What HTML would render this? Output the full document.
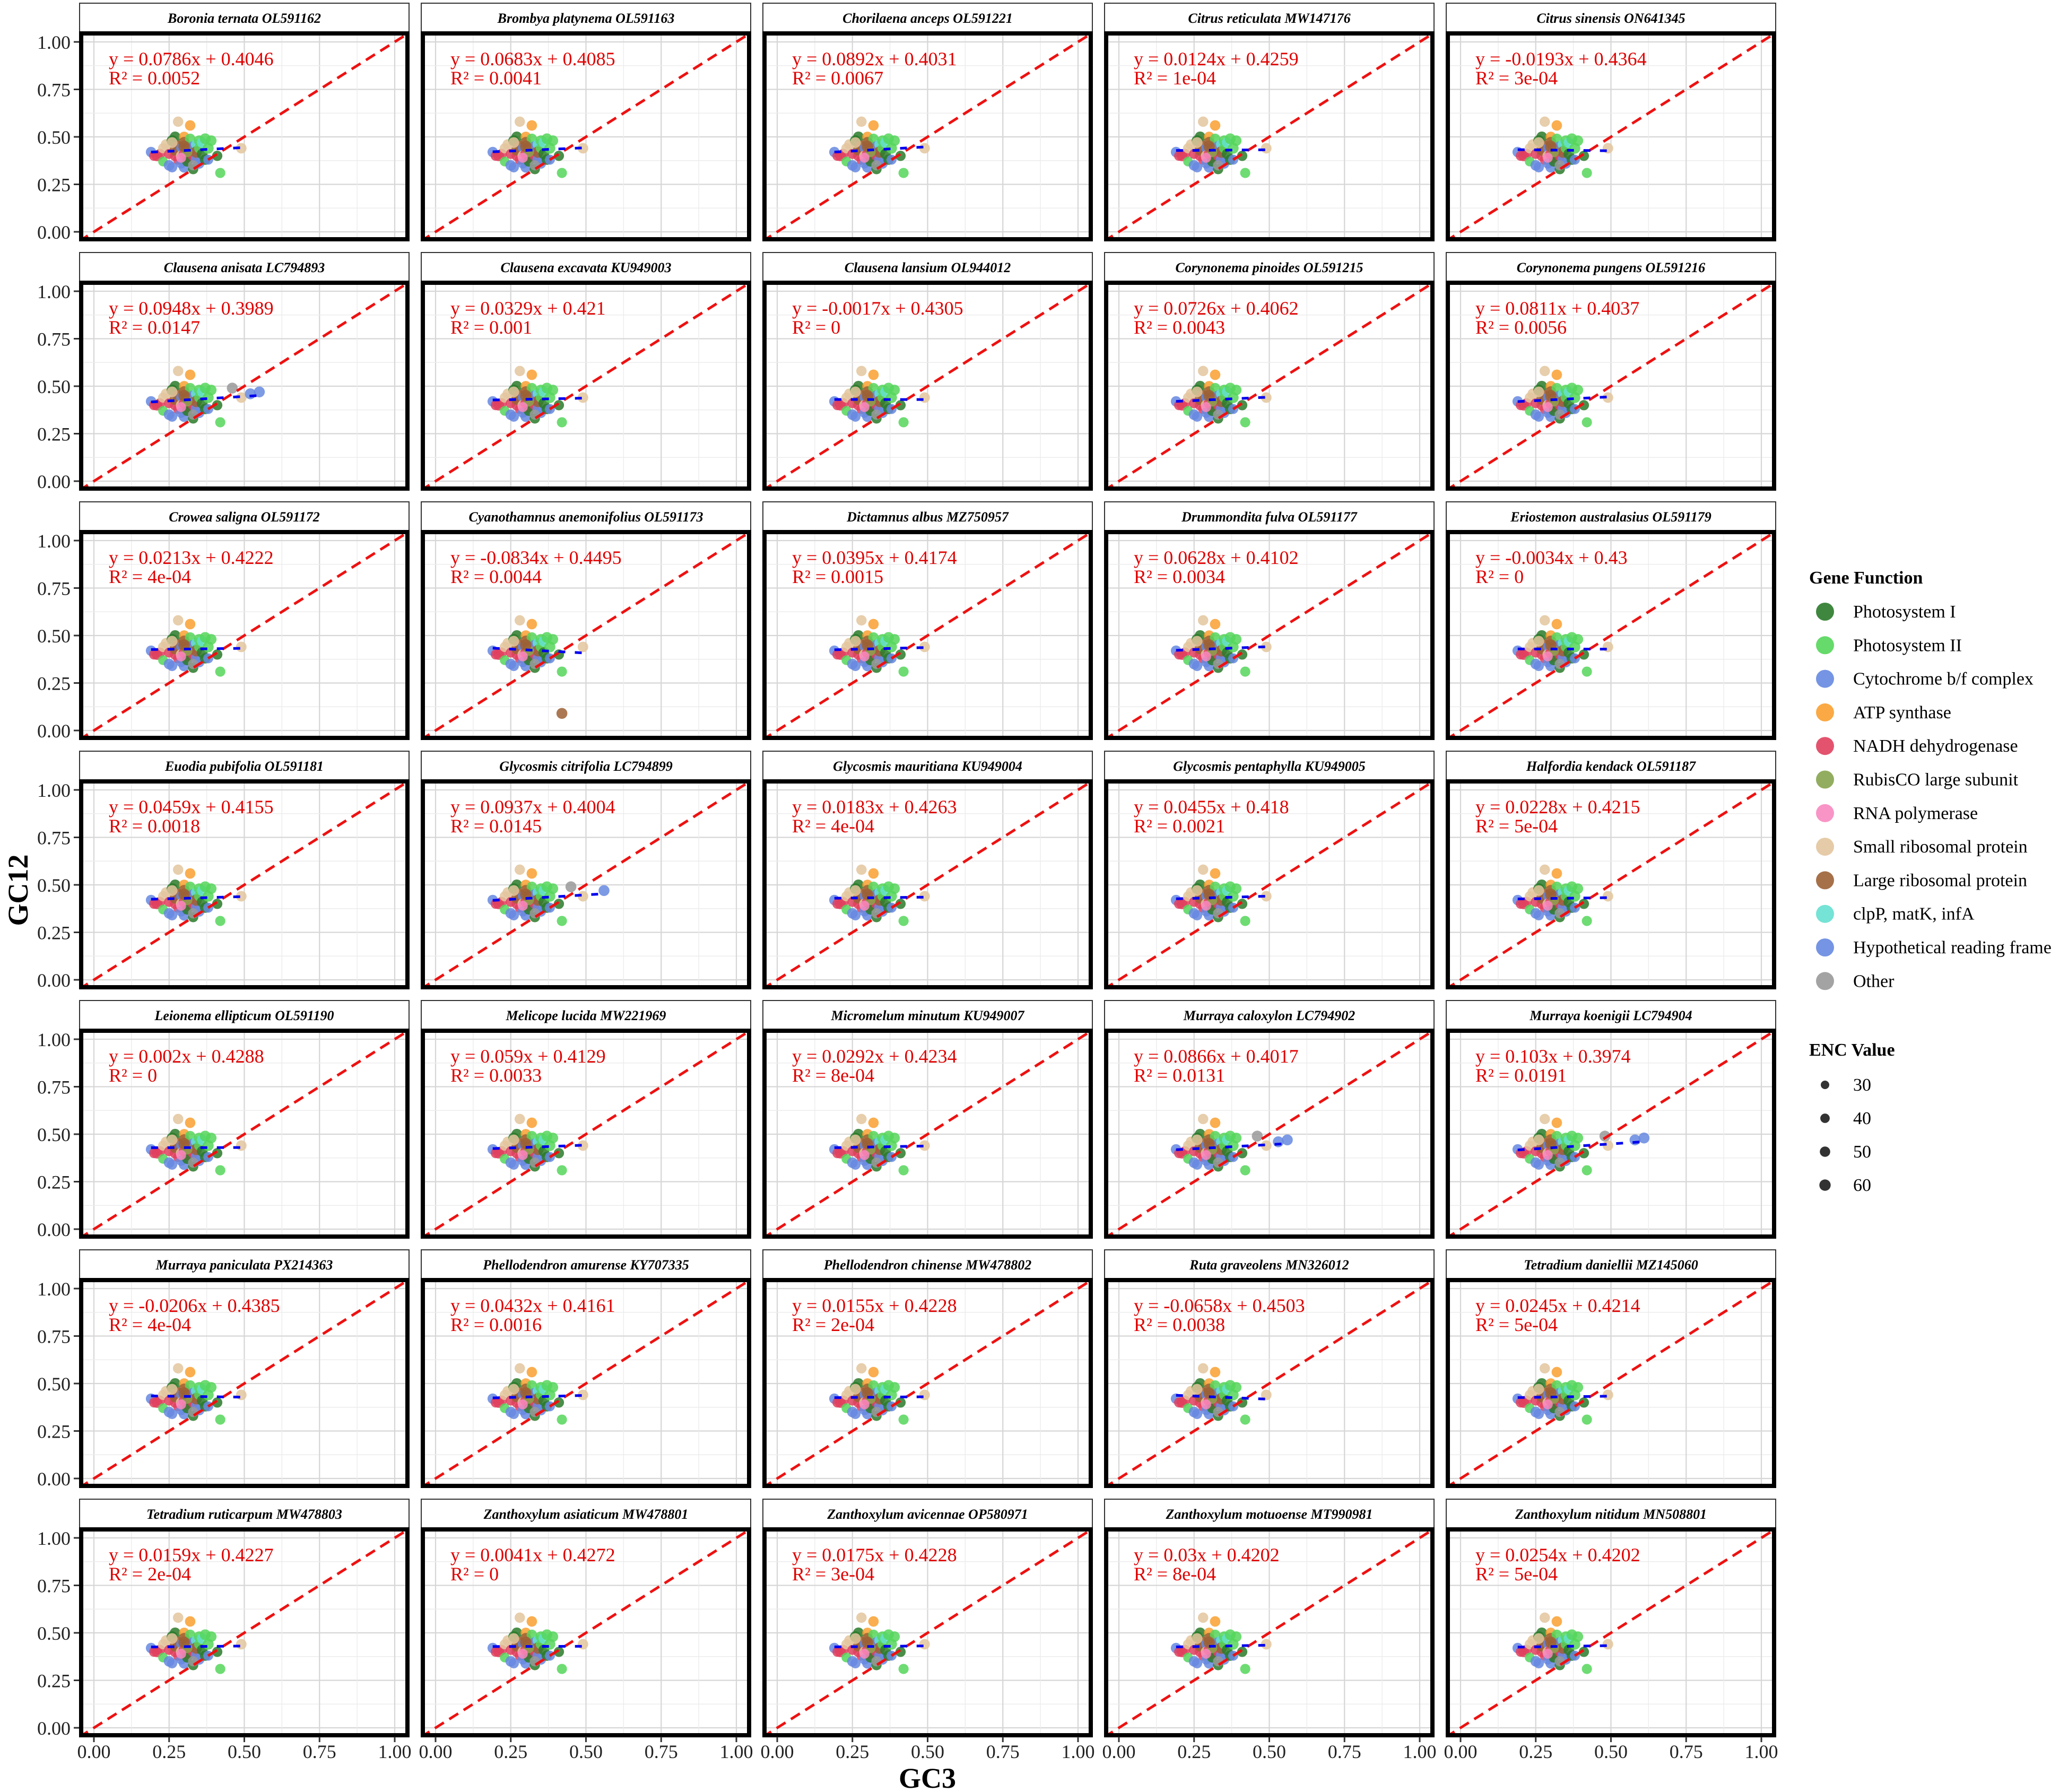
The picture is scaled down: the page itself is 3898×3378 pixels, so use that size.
<!DOCTYPE html>
<html><head><meta charset="utf-8">
<style>
html,body{margin:0;padding:0;background:#fff;}
svg{display:block;font-family:"Liberation Serif",serif;}
</style></head>
<body>
<svg id="chart" width="3898" height="3378" viewBox="0 0 3898 3378" xmlns="http://www.w3.org/2000/svg">
<rect x="0" y="0" width="3898" height="3378" fill="#fff"/>
<g id="panels"></g>
<text x="1748" y="3370" font-size="54" font-weight="bold" text-anchor="middle">GC3</text>
<text x="0" y="0" font-size="54" font-weight="bold" text-anchor="middle" transform="translate(52,1678) rotate(-90)">GC12</text>
<g id="legend"></g>
</svg>
<script>
const titles = ["Boronia ternata OL591162","Brombya platynema OL591163","Chorilaena anceps OL591221","Citrus reticulata MW147176","Citrus sinensis ON641345",
"Clausena anisata LC794893","Clausena excavata KU949003","Clausena lansium OL944012","Corynonema pinoides OL591215","Corynonema pungens OL591216",
"Crowea saligna OL591172","Cyanothamnus anemonifolius OL591173","Dictamnus albus MZ750957","Drummondita fulva OL591177","Eriostemon australasius OL591179",
"Euodia pubifolia OL591181","Glycosmis citrifolia LC794899","Glycosmis mauritiana KU949004","Glycosmis pentaphylla KU949005","Halfordia kendack OL591187",
"Leionema ellipticum OL591190","Melicope lucida MW221969","Micromelum minutum KU949007","Murraya caloxylon LC794902","Murraya koenigii LC794904",
"Murraya paniculata PX214363","Phellodendron amurense KY707335","Phellodendron chinense MW478802","Ruta graveolens MN326012","Tetradium daniellii MZ145060",
"Tetradium ruticarpum MW478803","Zanthoxylum asiaticum MW478801","Zanthoxylum avicennae OP580971","Zanthoxylum motuoense MT990981","Zanthoxylum nitidum MN508801"];
const slopes = ["0.0786","0.0683","0.0892","0.0124","-0.0193","0.0948","0.0329","-0.0017","0.0726","0.0811","0.0213","-0.0834","0.0395","0.0628","-0.0034","0.0459","0.0937","0.0183","0.0455","0.0228","0.002","0.059","0.0292","0.0866","0.103","-0.0206","0.0432","0.0155","-0.0658","0.0245","0.0159","0.0041","0.0175","0.03","0.0254"];
const intercepts = ["0.4046","0.4085","0.4031","0.4259","0.4364","0.3989","0.421","0.4305","0.4062","0.4037","0.4222","0.4495","0.4174","0.4102","0.43","0.4155","0.4004","0.4263","0.418","0.4215","0.4288","0.4129","0.4234","0.4017","0.3974","0.4385","0.4161","0.4228","0.4503","0.4214","0.4227","0.4272","0.4228","0.4202","0.4202"];
const r2s = ["0.0052","0.0041","0.0067","1e-04","3e-04","0.0147","0.001","0","0.0043","0.0056","4e-04","0.0044","0.0015","0.0034","0","0.0018","0.0145","4e-04","0.0021","5e-04","0","0.0033","8e-04","0.0131","0.0191","4e-04","0.0016","2e-04","0.0038","5e-04","2e-04","0","3e-04","8e-04","5e-04"];
const categories = ["Photosystem I","Photosystem II","Cytochrome b/f complex","ATP synthase","NADH dehydrogenase","RubisCO large subunit","RNA polymerase","Small ribosomal protein","Large ribosomal protein","clpP, matK, infA","Hypothetical reading frame","Other"];
const catColors = ["#2a7a2a","#55d65a","#6688e0","#f9a030","#e0405e","#86a44e","#f888c0","#e3c59e","#9c6035","#66e0d0","#6688e0","#999999"];
const baseGC3 = [0.19,0.20,0.21,0.22,0.23,0.23,0.24,0.25,0.25,0.26,0.26,0.27,0.27,0.27,0.28,0.28,0.28,0.29,0.29,0.29,0.30,0.30,0.30,0.30,0.31,0.31,0.31,0.32,0.32,0.32,0.33,0.33,0.33,0.34,0.34,0.34,0.35,0.35,0.35,0.36,0.36,0.37,0.37,0.38,0.38,0.39,0.41,0.42,0.49,0.31,0.29,0.33,0.26,0.30];
const baseGC12 = [0.42,0.40,0.40,0.41,0.44,0.37,0.46,0.41,0.35,0.48,0.34,0.40,0.43,0.50,0.58,0.38,0.45,0.44,0.40,0.36,0.50,0.41,0.34,0.47,0.39,0.44,0.37,0.56,0.43,0.49,0.40,0.45,0.33,0.38,0.46,0.42,0.44,0.48,0.36,0.47,0.41,0.49,0.38,0.44,0.38,0.48,0.40,0.31,0.44,0.42,0.39,0.35,0.47,0.45];
const baseCat = [10,4,4,4,7,1,7,4,2,0,2,4,8,0,7,4,8,2,7,2,3,4,2,8,4,8,0,3,4,1,4,2,0,2,9,8,1,1,2,9,0,1,0,1,10,1,0,1,7,5,6,11,7,8];
const baseENC = [45,40,48,44,42,38,46,40,47,50,43,46,52,48,44,41,55,39,47,42,45,50,48,53,46,58,42,45,51,44,47,46,43,49,44,55,42,47,45,46,48,49,45,50,41,47,43,42,46,44,40,43,48,56];
const extraPanel = [5,5,5,11,16,16,23,23,23,24,24,24];
const extraGC3 = [0.52,0.55,0.46,0.42,0.56,0.45,0.53,0.56,0.46,0.58,0.61,0.48];
const extraGC12 = [0.46,0.47,0.49,0.09,0.47,0.49,0.46,0.47,0.49,0.47,0.48,0.49];
const extraCat = [10,10,11,8,10,11,10,10,11,10,10,11];
const xTicks = ["0.00","0.25","0.50","0.75","1.00"];
const yTicks = ["0.00","0.25","0.50","0.75","1.00"];
const encLevels = [30,40,50,60];

const NS = "http://www.w3.org/2000/svg";
function mk(tag, attrs, parent){const e=document.createElementNS(NS,tag);for(const k in attrs)e.setAttribute(k,attrs[k]);if(parent)parent.appendChild(e);return e;}
const PW=623, COLW=644, ROWH=470;
function sx(L,v){return L+28+567*v;}
function sy(T,v){return T+377-358*v;}
function rad(enc){return 8.5+ (enc-30)*0.09;}

const panelsG=document.getElementById('panels');
titles.forEach((t,i)=>{
  const c=i%5, r=Math.floor(i/5);
  const L=149+COLW*c, T=60+ROWH*r, ST=5+ROWH*r;
  const g=mk('g',{},panelsG);
  
  
  const strip=mk('rect',{x:L+1,y:ST+1,width:PW-2,height:55,fill:'#fff',stroke:'#333','stroke-width':2},g);
  
  
  const st=mk('text',{x:L+PW/2,y:ST+38,'font-size':26,'font-weight':'bold','font-style':'italic','text-anchor':'middle'},g);
  st.textContent=t;
  
  
  const cp=mk('clipPath',{id:'cp'+i},g);
  mk('rect',{x:L,y:T,width:PW,height:394},cp);
  const pg=mk('g',{'clip-path':'url(#cp'+i+')'},g);
  for(let k=0;k<=8;k++){
    const v=k/8, major=(k%2===0);
    const gx=mk('line',{x1:sx(L,v),x2:sx(L,v),y1:T,y2:T+394,stroke:major?'#d6d6d6':'#ececec','stroke-width':major?2.2:1.4},pg);
    
    
    const gy=mk('line',{x1:L,x2:L+PW,y1:sy(T,v),y2:sy(T,v),stroke:major?'#d6d6d6':'#ececec','stroke-width':major?2.2:1.4},pg);
    
    
  }
  let xs=[],ys=[],cs=[],es=[];
  baseGC3.forEach((v,j)=>{xs.push(v);ys.push(baseGC12[j]);cs.push(baseCat[j]);es.push(baseENC[j]);});
  extraPanel.forEach((p,j)=>{if(p===i){xs.push(extraGC3[j]);ys.push(extraGC12[j]);cs.push(extraCat[j]);es.push(50);}});
  xs.forEach((v,j)=>{
    const pt=mk('circle',{cx:sx(L,v),cy:sy(T,ys[j]),r:rad(es[j]),fill:catColors[cs[j]],'fill-opacity':0.85},pg);
    
    
  });
  const dl=mk('line',{x1:sx(L,-0.05),y1:sy(T,-0.05),x2:sx(L,1.05),y2:sy(T,1.05),stroke:'#ee1111','stroke-width':5,'stroke-dasharray':'20 12'},pg);
  
  
  const m=parseFloat(slopes[i]), b=parseFloat(intercepts[i]);
  const xmin=Math.min(...xs), xmax=Math.max(...xs);
  const rl=mk('line',{x1:sx(L,xmin),y1:sy(T,m*xmin+b),x2:sx(L,xmax),y2:sy(T,m*xmax+b),stroke:'#0000ee','stroke-width':5,'stroke-dasharray':'13 18'},pg);
  
  
  const e1=mk('text',{x:L+56,y:T+63,'font-size':36,fill:'#e00000'},g);
  e1.textContent='y = '+slopes[i]+'x + '+intercepts[i];
  
  
  const e2=mk('text',{x:L+56,y:T+99,'font-size':36,fill:'#e00000'},g);
  e2.textContent='R² = '+r2s[i];
  
  
  const br=mk('rect',{x:L+4,y:T+3,width:PW-8,height:388,fill:'none',stroke:'#000','stroke-width':8},g);
  
  
  if(c===0){
    yTicks.forEach((lab,k)=>{
      const yy=sy(T,parseFloat(lab));
      mk('line',{x1:L-10,x2:L,y1:yy,y2:yy,stroke:'#333','stroke-width':3},g);
      const tl=mk('text',{x:L-16,y:yy+13,'font-size':36,'text-anchor':'end',fill:'#222'},g);
      tl.textContent=lab;
      
      
    });
  }
  if(r===6){
    xTicks.forEach((lab,k)=>{
      const xx=sx(L,parseFloat(lab));
      mk('line',{x1:xx,x2:xx,y1:T+394,y2:T+404,stroke:'#333','stroke-width':3},g);
      const tl=mk('text',{x:xx,y:T+434,'font-size':36,'text-anchor':'middle',fill:'#222'},g);
      tl.textContent=lab;
      
      
    });
  }
});

const lg=document.getElementById('legend');
const lt=mk('text',{x:3410,y:1100,'font-size':34,'font-weight':'bold'},lg);
lt.textContent='Gene Function';


categories.forEach((cat,k)=>{
  const cy=1153+63.3*k;
  const ci=mk('circle',{cx:3440,cy:cy,r:17,fill:catColors[k],'fill-opacity':0.9},lg);
  
  
  const tx=mk('text',{x:3493,y:cy+11,'font-size':34},lg);
  tx.textContent=cat;
  
  
});
const et=mk('text',{x:3410,y:1990,'font-size':34,'font-weight':'bold'},lg);
et.textContent='ENC Value';


encLevels.forEach((v,k)=>{
  const cy=2045+63*k;
  const ci=mk('circle',{cx:3440,cy:cy,r:rad(v)-0.5,fill:'#333'},lg);
  
  
  const tx=mk('text',{x:3493,y:cy+11,'font-size':34},lg);
  tx.textContent=String(v);
  
  
});
</script>
</body></html>
